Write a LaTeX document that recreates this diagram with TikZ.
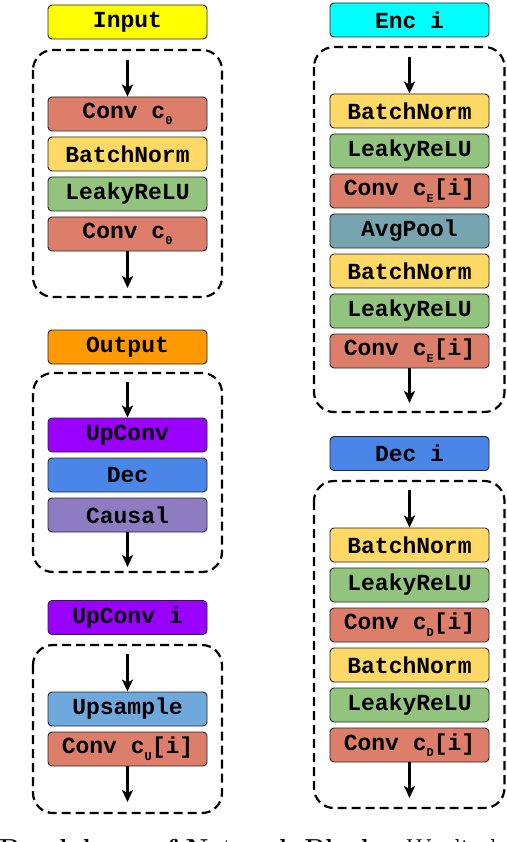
\documentclass[tikz,border=0pt]{standalone}
\usepackage{fontspec}
\newfontfamily\blockfont{Liberation Mono}
\usetikzlibrary{arrows.meta}

\definecolor{inputyellow}{HTML}{FFFF00}
\definecolor{enccyan}{HTML}{00FFFF}
\definecolor{outorange}{HTML}{FF9900}
\definecolor{decblue}{HTML}{4A86E8}
\definecolor{uppurple}{HTML}{9900FF}
\definecolor{convred}{HTML}{DD7E6B}
\definecolor{normyellow}{HTML}{FFD966}
\definecolor{relugreen}{HTML}{93C47D}
\definecolor{poolteal}{HTML}{76A5AF}
\definecolor{causalviolet}{HTML}{8E7CC3}
\definecolor{samplesky}{HTML}{6FA8DC}

\newcommand{\lowidx}[1]{\raisebox{-0.55ex}{\fontsize{12pt}{12pt}\selectfont #1}}

\begin{document}
\begin{tikzpicture}
[x=1pt,y=-1pt,
  blockDecorate/.style={draw=black!85,line width=0.9pt,rounded corners=4pt,
    minimum width=159pt,minimum height=34pt,inner sep=0pt,
    font=\blockfont\bfseries\fontsize{23pt}{23pt}\selectfont},%
  groupDecorate/.style={draw,line width=2.2pt,dash pattern=on 9pt off 5pt,rounded corners=20pt},%
  arrowDecorate/.style={-{Stealth[length=12pt,width=11pt,inset=3pt]},line width=2.2pt}]
\useasboundingbox (0,0) rectangle (506,842);
%% titles and layers
\foreach \nodename/\x/\y/\col/\txt in {
  inT/127.5/22/inputyellow/{Input},
  inA/127.5/114/convred/{Conv c\lowidx{0}},
  inB/127.5/154/normyellow/{BatchNorm},
  inC/127.5/194/relugreen/{LeakyReLU},
  inD/127.5/234/convred/{Conv c\lowidx{0}},
  outT/127.5/347/outorange/{Output},
  outA/127.5/435/uppurple/{UpConv},
  outB/127.5/475/decblue/{Dec},
  outC/127.5/515/causalviolet/{Causal},
  upT/127.5/617.5/uppurple/{UpConv i},
  upA/127.5/709/samplesky/{Upsample},
  upB/127.5/749/convred/{Conv c\lowidx{U}[i]},
  encT/409.5/20/enccyan/{Enc i},
  encA/409.5/111/normyellow/{BatchNorm},
  encB/409.5/151/relugreen/{LeakyReLU},
  encC/409.5/191/convred/{Conv c\lowidx{E}[i]},
  encD/409.5/231/poolteal/{AvgPool},
  encE/409.5/271/normyellow/{BatchNorm},
  encF/409.5/311/relugreen/{LeakyReLU},
  encG/409.5/351/convred/{Conv c\lowidx{E}[i]},
  decT/409.5/453.5/decblue/{Dec i},
  decA/409.5/545/normyellow/{BatchNorm},
  decB/409.5/585/relugreen/{LeakyReLU},
  decC/409.5/625/convred/{Conv c\lowidx{D}[i]},
  decD/409.5/665/normyellow/{BatchNorm},
  decE/409.5/705/relugreen/{LeakyReLU},
  decF/409.5/745/convred/{Conv c\lowidx{D}[i]}}
{
  \node (\nodename) at (\x,\y) [blockDecorate,fill=\col] {\txt};
}
%% dashed groups
\draw[groupDecorate] (33,50) rectangle (222,297);
\draw[groupDecorate] (33,373) rectangle (222,572);
\draw[groupDecorate] (33,645) rectangle (222,813);
\draw[groupDecorate] (314,47) rectangle (504.5,412);
\draw[groupDecorate] (314,481) rectangle (504.5,808);
%% free ends of the arrows
\foreach \nodename/\x/\y in {
  inIn/127.5/60, inOut/127.5/288, outIn/127.5/382, outOut/127.5/567,
  upIn/127.5/654, upOut/127.5/802, encIn/409.5/57, encOut/409.5/403,
  decIn/409.5/490, decOut/409.5/798}
{
  \coordinate (\nodename) at (\x,\y);
}
\foreach \startnode/\endnode in {inIn/inA.north, inD.south/inOut, outIn/outA.north,
  outC.south/outOut, upIn/upA.north, upB.south/upOut, encIn/encA.north,
  encG.south/encOut, decIn/decA.north, decF.south/decOut}
{
  \draw[arrowDecorate] (\startnode) -- (\endnode);
}
%% caption, cut by the page
\node (caption) at (-1,839) [anchor=north west,inner sep=0pt,font=\fontsize{26pt}{26pt}\selectfont]
  {\textbf{Breakdown of Network Blocks.} We display};
\end{tikzpicture}
\end{document}
